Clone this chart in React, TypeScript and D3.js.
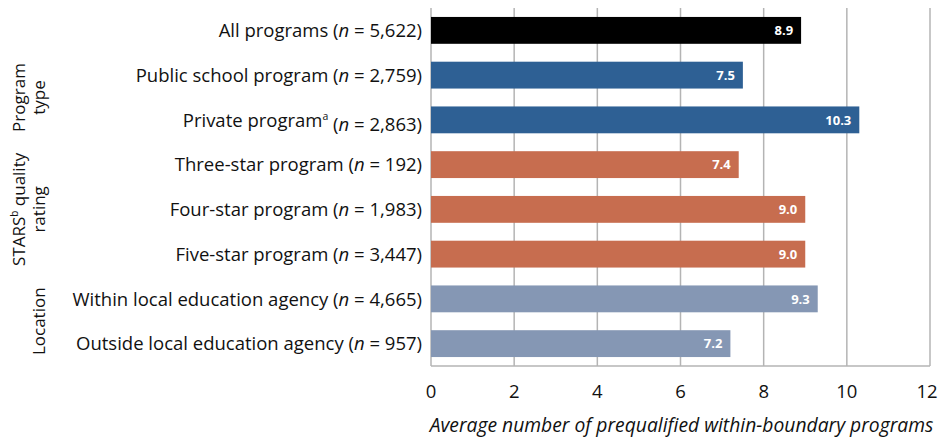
import React from "react";
import * as d3 from "d3";

// category labels, split so the italic n and superscripts can be styled
const labels = [
  "All programs",
  "Public school program",
  "Private program",
  "Three-star program",
  "Four-star program",
  "Five-star program",
  "Within local education agency",
  "Outside local education agency",
];
const labelSup = ["", "", "a", "", "", "", "", ""];
const counts = ["5,622", "2,759", "2,863", "192", "1,983", "3,447", "4,665", "957"];
const values = [8.9, 7.5, 10.3, 7.4, 9.0, 9.0, 9.3, 7.2];
const groupOf = ["all", "type", "type", "stars", "stars", "stars", "loc", "loc"];
const ticks = [0, 2, 4, 6, 8, 10, 12];

const colors: Record<string, string> = {
  all: "#000000",
  type: "#2e6094",
  stars: "#c76d4f",
  loc: "#8597b4",
};

const FONT = "'Open Sans', sans-serif";

const App = () => {
  const width = 938;
  const height = 437;
  const margin = { top: 8, right: 8, bottom: 71, left: 431 };

  const x = d3.scaleLinear().domain([0, 12]).range([margin.left, 930]);
  const y = d3
    .scaleBand<number>()
    .domain(d3.range(values.length))
    .range([margin.top, height - margin.bottom])
    .paddingInner(0.4)
    .paddingOuter(0.2);

  const bottom = height - margin.bottom;
  const mid = (a: number, b: number) => (y(a)! + y(b)! + y.bandwidth()) / 2;

  return (
    <svg
      width={width}
      height={height}
      style={{ position: "absolute", left: 0, top: 0, background: "#fff" }}
      fontFamily={FONT}
    >
      {/* gridlines */}
      <g stroke="#b4b4b4" strokeWidth={1.5}>
        {ticks.map((t) => (
          <line key={t} x1={x(t)} x2={x(t)} y1={margin.top} y2={bottom} />
        ))}
        <line x1={x(0)} x2={x(12)} y1={bottom} y2={bottom} />
      </g>

      {/* bars */}
      {values.map((v, i) => (
        <g key={i}>
          <rect
            x={x(0)}
            y={y(i)}
            width={x(v) - x(0)}
            height={y.bandwidth()}
            fill={colors[groupOf[i]]}
          />
          <text
            x={x(v) - 8}
            y={y(i)! + y.bandwidth() / 2}
            dy="0.36em"
            textAnchor="end"
            fill="#fff"
            fontWeight="bold"
            fontSize={13}
          >
            {v.toFixed(1)}
          </text>
          <text
            x={x(0) - 9}
            y={y(i)! + y.bandwidth() / 2}
            dy="0.36em"
            textAnchor="end"
            fontSize={18.5}
            fill="#111"
          >
            {labels[i]}
            {labelSup[i] && (
              <tspan fontSize={10.5} dy="-0.6em">
                {labelSup[i]}
              </tspan>
            )}
            <tspan dy={labelSup[i] ? "0.6em" : 0}> (</tspan>
            <tspan fontStyle="italic">n</tspan>
            {" = " + counts[i] + ")"}
          </text>
        </g>
      ))}

      {/* group labels */}
      <g fontSize={17} fill="#111" textAnchor="middle">
        <text transform={`translate(25,${mid(1, 2)}) rotate(-90)`}>
          <tspan x={0}>Program</tspan>
          <tspan x={0} dy={20}>type</tspan>
        </text>
        <text transform={`translate(25,${mid(3, 5)}) rotate(-90)`}>
          <tspan x={0}>
            STARS
            <tspan fontSize={10} dy={-7}>b</tspan>
            <tspan dy={7}> quality</tspan>
          </tspan>
          <tspan x={0} dy={20}>rating</tspan>
        </text>
        <text transform={`translate(45,${mid(6, 7)}) rotate(-90)`}>Location</text>
      </g>

      {/* x axis */}
      <g fontSize={18.5} fill="#111" textAnchor="middle">
        {ticks.map((t) => (
          <text key={t} x={t === 12 ? x(t) - 3 : x(t)} y={bottom + 26} dy="0.35em">
            {t}
          </text>
        ))}
        <text x={(x(0) + x(12)) / 2 + 1} y={bottom + 59} dy="0.35em" fontSize={19.3} fontStyle="italic">
          Average number of prequalified within-boundary programs
        </text>
      </g>
    </svg>
  );
};

export default App;
